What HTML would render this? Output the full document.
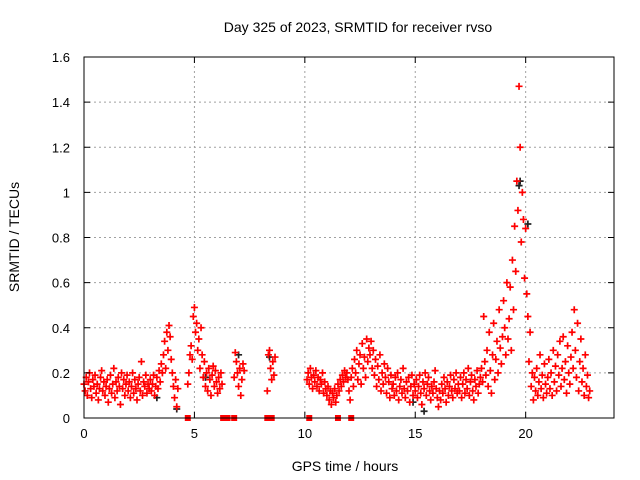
<!DOCTYPE html>
<html><head><meta charset="utf-8"><style>
body{margin:0;background:#fff;}
svg{display:block;font-family:"Liberation Sans",sans-serif;}
</style></head><body>
<svg id="chart" width="640" height="480" xmlns="http://www.w3.org/2000/svg">
<text x="358" y="32" font-size="14" text-anchor="middle">Day 325 of 2023, SRMTID for receiver rvso</text>
<text transform="translate(19,237) rotate(-90)" font-size="14" text-anchor="middle">SRMTID / TECUs</text>
<text x="345" y="471" font-size="14" text-anchor="middle">GPS time / hours</text>
<g id="grid"></g><g id="marks"></g><g id="axes"></g>
</svg>
<script>
const xTicks=[0,5,10,15,20];
const yTicks=[0,0.2,0.4,0.6,0.8,1,1.2,1.4,1.6];
const yTickLabels=["0","0.2","0.4","0.6","0.8","1","1.2","1.4","1.6"];
const segStarts=[0,4.7,6.8,8.3,10.1];
const segStep=0.05;
const segA=[.15,.12,.18,.10,.16,.20,.13,.09,.17,.14,.19,.11,.15,.08,.13,.18,.21,.12,.16,.10,
.14,.17,.07,.13,.19,.11,.15,.22,.09,.16,.12,.18,.14,.06,.20,.13,.17,.10,.15,.19,
.12,.16,.09,.14,.20,.11,.17,.13,.08,.15,.18,.12,.25,.10,.16,.14,.19,.11,.15,.13,
.17,.12,.15,.19,.10,.14,.18,.13,.21,.16,.24,.20,
.28,.34,.22,.38,.30,.41,.36,.26,.20,.14,.09,.17,.05,.13];
const segB=[.15,.20,.28,.32,.26,.45,.49,.38,.42,.30,.35,.22,.40,.28,.18,.25,.14,.20,.12,.22,.17,.10,.19,.23,.14,.21,.16,.11,.18,.13,.20,.15];
const segC=[.18,.29,.25,.20,.14,.22,.10,.17,.24,.21];
const segD=[.12,.28,.30,.22,.17,.25,.19,.27];
const segE=[.17,.20,.15,.22,.18,.13,.19,.16,.21,.14,.18,.12,.17,.15,.20,.11,.16,.13,
.10,.14,.08,.12,.06,.11,.09,.13,.07,.10,.15,.12,.17,.14,.19,.16,.21,.18,.20,.17,
.12,.08,.18,.22,.14,.26,.20,.30,.17,.24,.28,.15,.33,.22,.27,.18,.35,.25,.31,.28,
.34,.22,.30,.19,.26,.14,.23,.17,.28,.12,.20,.15,.24,.18,.11,.22,.16,.09,.19,.13,
.15,.10,.18,.12,.20,.08,.14,.17,.11,.22,.13,.09,.16,.12,.18,.07,.14,.19,.10,.15,
.12,.17,.09,.14,.19,.11,.06,.16,.13,.20,.10,.15,.18,.12,.08,.14,.11,.16,.21,.13,
.09,.05,.12,.08,.15,.11,.18,.13,.07,.16,.10,.14,.19,.12,.09,.17,.13,.20,.11,.15,
.12,.18,.09,.15,.20,.11,.17,.13,.22,.10,.16,.19,.12,.08,.17,.14,.21,.11,.15,.18,
.22,.16,.45,.25,.19,.30,.14,.38,.21,.11,.28,.42,.17,.26,.34,.20,.48,.31,.24,.36,
.52,.40,.28,.60,.35,.44,.58,.30,.70,.48,.85,.65,1.05,.92,1.47,1.2,.78,1.0,.88,.62,
.84,.55,.45,.25,.38,.14,.20,.08,.18,.12,.22,.10,.16,.28,.13,.19,.09,.24,.15,.11,
.18,.26,.13,.20,.10,.30,.16,.23,.12,.28,.19,.34,.14,.22,.36,.17,.25,.11,.32,.20,
.15,.27,.38,.22,.48,.30,.18,.42,.12,.25,.35,.16,.22,.10,.28,.14,.19,.09,.12];
const segValues=[segA,segB,segC,segD,segE];
const zeroTimes=[4.7,6.3,6.4,6.5,6.8,8.3,8.5,10.2,11.5,12.1];
const blackTimes=[4.2,3.3,5.5,7.0,8.4,15.4,19.7,19.75,20.1,14.9];
const blackValues=[.04,.09,.18,.28,.27,.03,1.03,1.05,.86,.07];

const X0=84,X1=614,Y0=418,Y1=57,XMAX=24,YMAX=1.6;
const sx=v=>X0+v/XMAX*(X1-X0);
const sy=v=>Y0-v/YMAX*(Y0-Y1);
const NS="http://www.w3.org/2000/svg";
function mk(tag,attrs,parent){const e=document.createElementNS(NS,tag);for(const k in attrs)e.setAttribute(k,attrs[k]);parent.appendChild(e);return e;}
const grid=document.getElementById('grid'),marks=document.getElementById('marks'),axes=document.getElementById('axes');
xTicks.forEach((t,i)=>{
  if(t>0){const g=mk('line',{x1:sx(t),x2:sx(t),y1:Y0,y2:Y1,stroke:'#a0a0a0','stroke-dasharray':'2,3'},grid);
  
  }
  const tk=mk('path',{d:`M${sx(t)},${Y0}v-6M${sx(t)},${Y1}v6`,stroke:'#000'},axes);
  
  
  const l=mk('text',{x:sx(t),y:Y0+20,'font-size':13,'text-anchor':'middle'},axes);l.textContent=t;
  
  
});
yTicks.forEach((t,i)=>{
  if(t>0&&t<YMAX){const g=mk('line',{x1:X0,x2:X1,y1:sy(t),y2:sy(t),stroke:'#a0a0a0','stroke-dasharray':'2,3'},grid);
  
  }
  const tk=mk('path',{d:`M${X0},${sy(t)}h6M${X1},${sy(t)}h-6`,stroke:'#000'},axes);
  
  
  const l=mk('text',{x:X0-14,y:sy(t)+5,'font-size':13,'text-anchor':'end'},axes);l.textContent=yTickLabels[i];
  
  
});
const fr=mk('rect',{x:X0,y:Y1,width:X1-X0,height:Y0-Y1,fill:'none',stroke:'#000'},axes);


function plus(t,v,color,name){
  const x=sx(t),y=sy(v);
  const p=mk('path',{d:`M${x-3.5},${y}h7M${x},${y-3.5}v7`,stroke:color,'stroke-width':1.7,fill:'none'},marks);
  
  
}
blackTimes.forEach((t,i)=>plus(t,blackValues[i],'#222','black-point'));
segValues.forEach((arr,s)=>arr.forEach((v,i)=>plus(segStarts[s]+i*segStep,v,'#ff0000','srmtid-point')));
zeroTimes.forEach(t=>{
  const x=sx(t);
  const r=mk('rect',{x:x-3,y:Y0-3,width:6,height:6,fill:'#ff0000'},marks);
  
  
});
</script>
</body></html>
